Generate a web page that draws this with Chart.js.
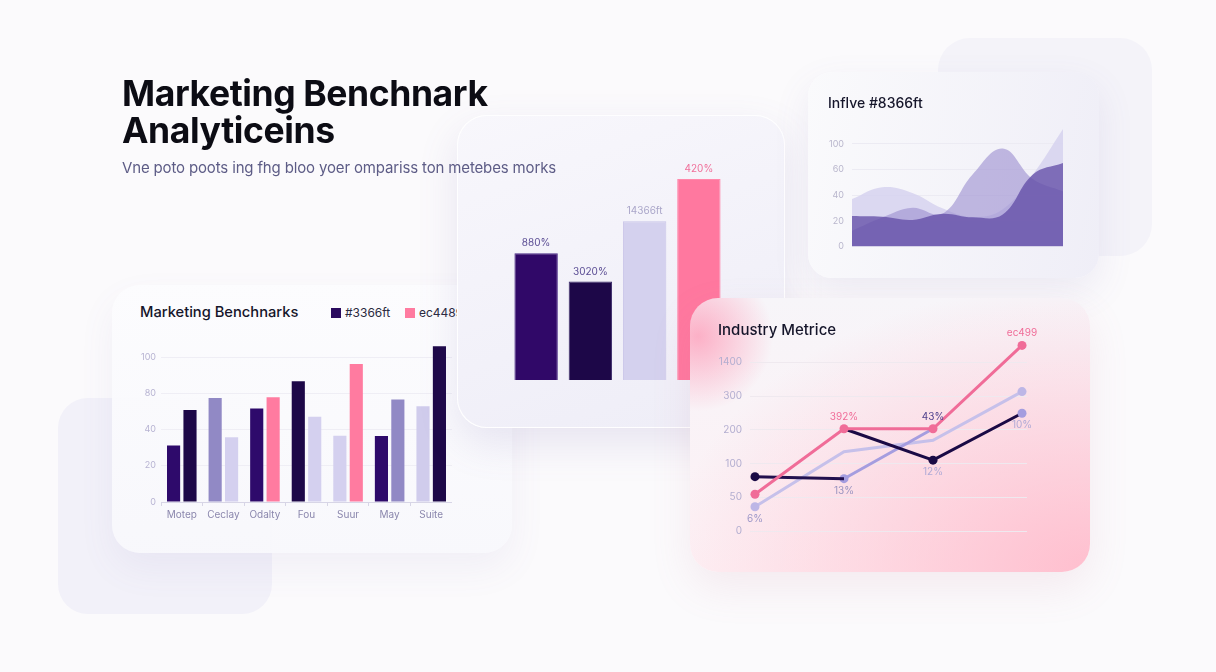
<!DOCTYPE html>
<html>
<head>
<meta charset="utf-8">
<title>Marketing Benchmark Analytics</title>
<script src="https://cdn.jsdelivr.net/npm/chart.js@4.4.1/dist/chart.umd.min.js"></script>
<style>
  html, body { margin: 0; padding: 0; }
  body {
    width: 1216px; height: 672px; position: relative; overflow: hidden;
    background: #fbfafc;
    font-family: Inter, "Noto Sans", sans-serif;
  }
  .abs { position: absolute; }
  .bg1 { left: 58px; top: 398px; width: 214px; height: 216px; border-radius: 30px; background: #f2f1f9; z-index: 1; }
  .bg2 { left: 938px; top: 38px; width: 214px; height: 218px; border-radius: 32px; background: #f4f3f9; z-index: 1; }
  #card1 {
    left: 112px; top: 285px; width: 400px; height: 268px; border-radius: 28px; z-index: 2;
    background: linear-gradient(180deg, rgba(252,252,254,0.95), rgba(248,248,252,0.95));
    box-shadow: 0 16px 36px rgba(110,100,170,0.07);
  }
  #card2 {
    left: 457px; top: 115px; width: 328px; height: 313px; border-radius: 30px; z-index: 3;
    background: linear-gradient(160deg, #f8f7fc, #eeedf7);
    box-shadow: 0 16px 40px rgba(110,100,170,0.14);
    box-sizing: border-box; border: 1px solid rgba(255,255,255,0.9);
  }
  #card3 {
    left: 808px; top: 72px; width: 291px; height: 206px; border-radius: 24px; z-index: 3;
    background: linear-gradient(100deg, #fafafc, #efeef7);
    box-shadow: 0 14px 36px rgba(110,100,170,0.10);
  }
  #card4 {
    left: 690px; top: 298px; width: 400px; height: 274px; border-radius: 28px; z-index: 4;
    background:
      radial-gradient(circle at 2% 14%, rgba(255,130,165,0.6), rgba(255,130,165,0) 75px),
      radial-gradient(ellipse at 100% 100%, rgba(255,185,202,0.9), rgba(255,185,202,0) 75%),
      linear-gradient(180deg, #f7f5f9, #fdf0f4);
    box-shadow: 0 16px 40px rgba(200,120,150,0.12);
  }
  .title { left: 122px; top: 75px; font-size: 35.5px; line-height: 37px; font-weight: 700; color: #0c0c14; letter-spacing: -0.4px; z-index: 6; }
  .sub { left: 122px; top: 158px; font-size: 15px; color: #5d5c86; z-index: 6; white-space: nowrap; letter-spacing: -0.15px; }
  .h { font-size: 15px; font-weight: 500; color: #15152a; white-space: nowrap; }
  .leg { font-size: 12px; color: #2a2a40; white-space: nowrap; z-index: 2; }
  .sq { width: 10px; height: 10px; z-index: 2; }
  canvas { position: absolute; }
</style>
</head>
<body>
<div class="abs bg1"></div>
<div class="abs bg2"></div>

<div class="abs" id="card1"></div>
<div class="abs h" style="left:140px; top:303px; z-index:2; font-size:14.7px;">Marketing Benchnarks</div>
<div class="abs sq" id="legSq1" style="left:331px; top:308px;"></div>
<div class="abs leg" id="legTx1" style="left:345px; top:305px;"></div>
<div class="abs sq" id="legSq2" style="left:405px; top:308px;"></div>
<div class="abs leg" id="legTx2" style="left:419px; top:305px;"></div>
<canvas id="benchChart" style="left:120px; top:334px; z-index:2;"></canvas>

<div class="abs" id="card2"></div>
<canvas id="compareChart" style="left:509px; top:149px; z-index:3;"></canvas>

<div class="abs" id="card3"></div>
<div class="abs h" style="left:828px; top:94px; font-size:14px; z-index:3;">Inflve #8366ft</div>
<canvas id="areaChart" style="left:812px; top:115px; z-index:3;"></canvas>

<div class="abs" id="card4"></div>
<div class="abs h" style="left:718px; top:320px; z-index:4;">Industry Metrice</div>
<canvas id="lineChart" style="left:700px; top:322px; z-index:4;"></canvas>

<div class="abs title">Marketing Benchnark<br>Analyticeins</div>
<div class="abs sub">Vne poto poots ing fhg bloo yoer ompariss ton metebes morks</div>

<script>
// ---- data: grouped bars (values in tick steps, tick labels as printed) ----
var benchCategories = ['Motep', 'Ceclay', 'Odalty', 'Fou', 'Suur', 'May', 'Suite'];
var benchSeriesA = [1.56, 2.87, 2.58, 3.33, 1.83, 1.82, 2.64];
var benchSeriesB = [2.54, 1.79, 2.89, 2.35, 3.81, 2.83, 4.30];
var benchSeriesNames = ['#3366ft', 'ec4489t'];
var benchTickLabels = ['0', '20', '40', '80', '100'];

// ---- data: big comparison bars ----
var compareCategories = ['A', 'B', 'C', 'D'];
var compareValues = [63, 49, 79, 100];
var compareLabels = ['880%', '3020%', '14366ft', '420%'];

// ---- data: area chart ----
var areaPoints = ['1', '2', '3', '4', '5', '6', '7', '8'];
var areaLight = [1.85, 2.31, 2.09, 1.49, 1.15, 1.45, 2.81, 4.58];
var areaMid = [0.62, 1.13, 1.51, 1.28, 2.81, 3.82, 2.63, 2.15];
var areaDark = [1.19, 1.16, 1.04, 1.28, 1.14, 1.25, 2.81, 3.25];
var areaTickLabels = ['0', '20', '40', '60', '100'];

// ---- data: industry lines ----
var linePoints = [0, 1, 2, 3];
var linePink = [1.09, 3.03, 3.03, 5.50];
var lineDarkA = [1.61, 1.55, null, null];
var lineDarkB = [null, 3.03, 2.10, 3.49];
var lineLight = [0.72, 2.35, 2.69, 4.13];
var lineMid = [null, 1.55, 3.03, null];
var lineTickLabels = ['0', '50', '100', '200', '300', '1400'];
var lineLabelsPink = ['', '392%', '', 'ec499'];
var lineLabelsMid = ['', '13%', '43%', ''];
var lineLabelsDarkB = ['', '', '12%', '10%'];
var lineLabelsLight = ['6%', '', '', ''];

Chart.defaults.font.family = 'Inter, "Noto Sans", sans-serif';
Chart.defaults.animation = false;

function fixTicks(labels) {
  return function (s) { s.ticks = labels.map(function (t, i) { return { value: i }; }); };
}

// 1. grouped bars
var c1 = document.getElementById('benchChart');
c1.width = 332; c1.height = 196;
document.getElementById('legSq1').style.background = '#2a0a5e';
document.getElementById('legSq2').style.background = '#ff7ba0';
document.getElementById('legTx1').textContent = benchSeriesNames[0];
document.getElementById('legTx2').textContent = benchSeriesNames[1];

new Chart(c1.getContext('2d'), {
  type: 'bar',
  data: {
    labels: benchCategories,
    datasets: [{
      label: benchSeriesNames[0],
      data: benchSeriesA,
      backgroundColor: ['#2e0a6b', '#9189c5', '#2e0a6b', '#1d0848', '#d4d0ef', '#2e0a6b', '#d0ccec']
    }, {
      label: benchSeriesNames[1],
      data: benchSeriesB,
      backgroundColor: ['#1d0848', '#d4d0ef', '#ff7ba0', '#d4d0ef', '#ff7ba0', '#9189c5', '#1d0848']
    }]
  },
  options: {
    responsive: false,
    layout: { padding: { top: 8 } },
    categoryPercentage: 0.79,
    barPercentage: 0.8,
    plugins: { legend: { display: false }, tooltip: { enabled: false } },
    scales: {
      x: {
        grid: { display: true, drawOnChartArea: false, tickLength: 4, color: '#d7d5e6' },
        border: { display: true, color: '#d7d5e6' },
        ticks: { color: '#8b87ad', font: { size: 10 }, padding: 3 },
        afterFit: function (s) { s.height = 28; }
      },
      y: {
        min: 0, max: 4.35,
        afterBuildTicks: fixTicks(benchTickLabels),
        grid: { color: '#efeef5', drawTicks: false },
        border: { display: false },
        ticks: { color: '#b7b3d2', font: { size: 9 }, padding: 5, callback: function (v) { return benchTickLabels[v]; } },
        afterFit: function (s) { s.width = 41; }
      }
    }
  }
});

// 2. comparison bars with labels on top
var c2 = document.getElementById('compareChart');
c2.width = 217; c2.height = 231;
new Chart(c2.getContext('2d'), {
  type: 'bar',
  data: {
    labels: compareCategories,
    datasets: [{
      data: compareValues,
      backgroundColor: ['#300868', '#1d0748', '#d4d1ee', '#ff789f'],
      borderColor: ['#4a2a86', '#3a2a6a', '#c9c5e8', '#ff8aac'],
      borderWidth: 1
    }]
  },
  options: {
    responsive: false,
    layout: { padding: { top: 30 } },
    categoryPercentage: 1,
    barPercentage: 0.8,
    plugins: { legend: { display: false }, tooltip: { enabled: false } },
    scales: { x: { display: false }, y: { display: false, min: 0, max: 100 } }
  },
  plugins: [{
    id: 'topLabels',
    afterDatasetsDraw: function (chart) {
      var ctx = chart.ctx;
      var colors = ['#5b4d94', '#5b4d94', '#aaa6c9', '#f0709a'];
      ctx.save();
      ctx.font = '10px Inter, "Noto Sans", sans-serif';
      ctx.textAlign = 'center';
      ctx.textBaseline = 'middle';
      chart.getDatasetMeta(0).data.forEach(function (bar, i) {
        ctx.fillStyle = colors[i];
        ctx.fillText(compareLabels[i], bar.x, bar.y - 10);
      });
      ctx.restore();
    }
  }]
});

// 3. layered area chart
var c3 = document.getElementById('areaChart');
c3.width = 251; c3.height = 145;
new Chart(c3.getContext('2d'), {
  type: 'line',
  data: {
    labels: areaPoints,
    datasets: [
      { data: areaLight, fill: 'origin', backgroundColor: 'rgba(214,210,238,0.85)', order: 3 },
      { data: areaMid, fill: 'origin', backgroundColor: 'rgba(156,144,208,0.62)', order: 2 },
      { data: areaDark, fill: 'origin', backgroundColor: 'rgba(100,80,168,0.78)', order: 1 }
    ]
  },
  options: {
    responsive: false,
    layout: { padding: { top: 8, bottom: 8 } },
    elements: { point: { radius: 0 }, line: { borderWidth: 0, tension: 0.4 } },
    plugins: { legend: { display: false }, tooltip: { enabled: false } },
    scales: {
      x: { display: false },
      y: {
        min: 0, max: 4.6,
        afterBuildTicks: fixTicks(areaTickLabels),
        grid: { color: '#ecebf3', drawTicks: false },
        border: { display: false },
        ticks: { color: '#b9b6cc', font: { size: 9 }, padding: 8, callback: function (v) { return areaTickLabels[v]; } },
        afterFit: function (s) { s.width = 40; }
      }
    }
  }
});

// 4. industry lines
var c4 = document.getElementById('lineChart');
c4.width = 339; c4.height = 223;
new Chart(c4.getContext('2d'), {
  type: 'line',
  data: {
    labels: linePoints,
    datasets: [
      { data: lineLight, borderColor: '#c6c0ea', pointBackgroundColor: '#bdb6e6', pointRadius: [4.5, 0, 0, 4.5],
        pointLabels: lineLabelsLight, labelSide: [1, 0, 0, 0], labelColor: '#9d97c8', order: 4 },
      { data: lineMid, borderColor: '#a59ddf', pointBackgroundColor: '#a59ddf', pointRadius: [0, 4.5, 0, 0],
        pointLabels: lineLabelsMid, labelSide: [0, 1, -1, 0], labelColor: ['', '#9a94c0', '#4d3f8c', ''], order: 3 },
      { data: lineDarkA, borderColor: '#22104e', pointBackgroundColor: ['#1a0a45', '#a59ddf'], pointRadius: [4.5, 0], order: 2 },
      { data: lineDarkB, borderColor: '#1a0a45', pointBackgroundColor: ['#1a0a45', '#1a0a45', '#1a0a45', '#a59ddf'], pointRadius: [0, 0, 4.5, 4.5],
        pointLabels: lineLabelsDarkB, labelSide: [0, 0, 1, 1], labelColor: '#b0aad6', order: 1 },
      { data: linePink, borderColor: '#f06c98', pointBackgroundColor: '#f06c98', pointRadius: 4.5,
        pointLabels: lineLabelsPink, labelSide: [0, -1, 0, -1], labelColor: '#f06c98', order: 0 }
    ]
  },
  options: {
    responsive: false,
    clip: false,
    layout: { padding: { top: 20, bottom: 8, right: 12 } },
    elements: { line: { borderWidth: 3, tension: 0 }, point: { borderWidth: 0 } },
    plugins: { legend: { display: false }, tooltip: { enabled: false } },
    scales: {
      x: { type: 'linear', display: false, min: -0.056, max: 3.056 },
      y: {
        min: 0, max: 5.6,
        afterBuildTicks: fixTicks(lineTickLabels),
        grid: { color: '#efe9ef', drawTicks: false },
        border: { display: false },
        ticks: { color: '#b3aed0', font: { size: 10 }, padding: 8, callback: function (v) { return lineTickLabels[v]; } },
        afterFit: function (s) { s.width = 50; }
      }
    }
  },
  plugins: [{
    id: 'pointLabels',
    afterDatasetsDraw: function (chart) {
      var ctx = chart.ctx;
      ctx.save();
      ctx.font = '10px Inter, "Noto Sans", sans-serif';
      ctx.textAlign = 'center';
      ctx.textBaseline = 'middle';
      chart.data.datasets.forEach(function (ds, di) {
        if (!ds.pointLabels) return;
        chart.getDatasetMeta(di).data.forEach(function (pt, i) {
          var txt = ds.pointLabels[i];
          if (!txt) return;
          ctx.fillStyle = Array.isArray(ds.labelColor) ? ds.labelColor[i] : ds.labelColor;
          ctx.fillText(txt, pt.x, pt.y + ds.labelSide[i] * 12);
        });
      });
      ctx.restore();
    }
  }]
});
</script>
</body>
</html>
